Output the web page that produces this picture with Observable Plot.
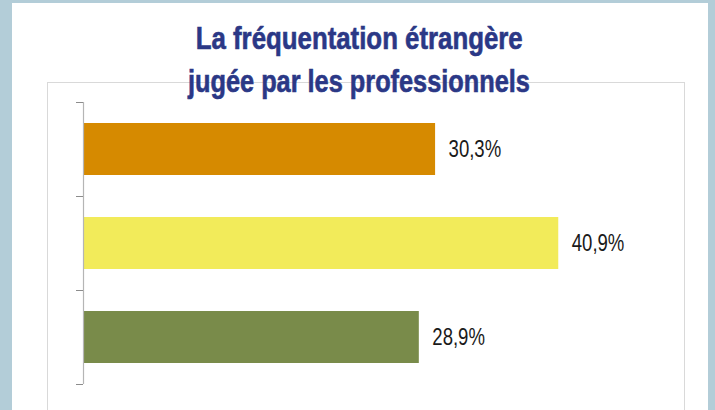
<!DOCTYPE html>
<html>
<head>
<meta charset="utf-8">
<script src="https://cdn.jsdelivr.net/npm/d3@7"></script>
<script src="https://cdn.jsdelivr.net/npm/@observablehq/plot@0.6"></script>
<style>
  html, body { margin: 0; padding: 0; background: #b3cdd8; }
  #wrap { position: relative; width: 715px; height: 410px; overflow: hidden; }
  #panel { position: absolute; left: 12px; top: 3px; width: 696px; height: 420px; background: #fff; }
  #frame { position: absolute; left: 47px; top: 82px; width: 638px; height: 330px; border: 1px solid #d9d9d9; box-sizing: border-box; }
  #chart { position: absolute; left: 0; top: 0; }
  .tline { position: absolute; left: 0; width: 718px; text-align: center; white-space: nowrap;
           font-family: "Liberation Sans", Arial, sans-serif; font-weight: bold;
           font-size: 30.5px; line-height: 30.5px; color: #2b3886; -webkit-text-stroke: 0.6px #2b3886; }
  .tline span { display: inline-block; transform-origin: center center; }
</style>
</head>
<body>
<div id="wrap">
  <div id="panel"></div>
  <div id="frame"></div>
  <div id="chart"></div>
  <div class="tline" style="top:22.5px"><span data-w="327">La fréquentation étrangère</span></div>
  <div class="tline" style="top:65.5px"><span data-w="342">jugée par les professionnels</span></div>
</div>
<script>
const categories = ["A", "B", "C"];
const values = [30.3, 40.9, 28.9];
const colors = ["#d68a00", "#f2eb5a", "#798b4a"];

const data = categories.map((c, i) => ({cat: c, value: values[i], color: colors[i]}));
const fr = d3.formatLocale({decimal: ",", thousands: " ", grouping: [3], currency: ["", " €"]});
const fmt = v => fr.format(".1f")(v) + "%";

const step = (384 - 102) / categories.length;

const chart = Plot.plot({
  width: 715,
  height: 410,
  marginLeft: 83,
  marginRight: 51,
  marginTop: 102,
  marginBottom: 26,
  style: {background: "transparent", overflow: "visible"},
  x: {domain: [0, 50], axis: null},
  y: {domain: categories, axis: null, paddingInner: 0.45, paddingOuter: 0.225},
  marks: [
    Plot.barX(data, {x: "value", y: "cat", fill: "color"}),
    Plot.text(data, {x: "value", y: "cat", text: d => fmt(d.value), textAnchor: "start", dx: 13,
      fontSize: 23.5, fill: "#1a1a1a", fontFamily: "Liberation Sans"}),
    Plot.ruleX([0], {stroke: "#b5b5b5", strokeWidth: 1.2}),
    Plot.ruleY(categories, {y: d => d, x1: -0.6, x2: 0, dy: -step / 2, stroke: "#8c8c8c"}),
    Plot.ruleY(categories.slice(-1), {y: d => d, x1: -0.6, x2: 0, dy: step / 2, stroke: "#8c8c8c"})
  ]
});
document.getElementById("chart").appendChild(chart);

// condense label glyphs (reference uses a narrow typeface)
chart.querySelectorAll('g[aria-label="text"] text').forEach(t => {
  const tr = t.getAttribute("transform") || "";
  t.setAttribute("transform", tr + " scale(0.79,1)");
});
// condense title lines to the reference widths
document.querySelectorAll(".tline span").forEach(s => {
  const w = s.getBoundingClientRect().width;
  s.style.transform = `scaleX(${(+s.dataset.w / w).toFixed(4)})`;
});
</script>
</body>
</html>
